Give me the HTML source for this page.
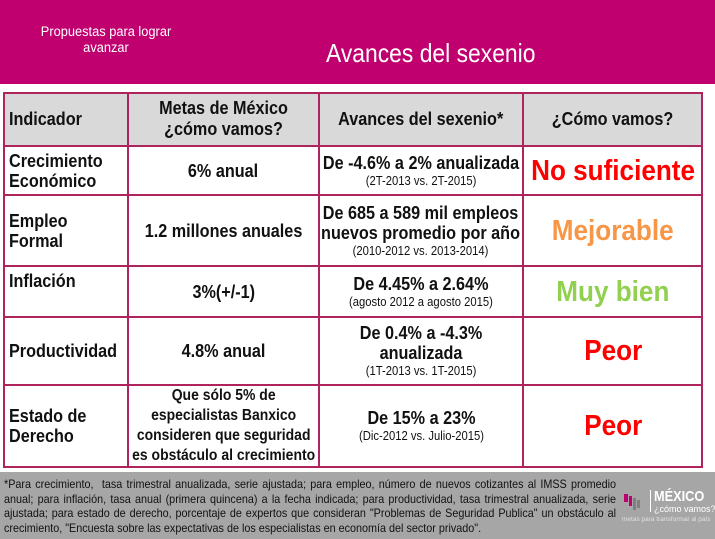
<!DOCTYPE html>
<html><head><meta charset="utf-8"><style>
*{margin:0;padding:0;box-sizing:border-box}
body{width:715px;height:539px;overflow:hidden;background:#fff;font-family:"Liberation Sans",sans-serif;position:relative}
.hdr{position:absolute;left:0;top:0;width:715px;height:84px;background:#c0006f}
.sub{position:absolute;left:20px;top:24px;width:172px;text-align:center;color:#fff;font-size:13.5px;line-height:16px;transform:scaleX(.95)}
.title{position:absolute;left:326px;top:38px;color:#fff;font-size:26px;white-space:nowrap;transform:scaleX(.88);transform-origin:left}
.tb{position:absolute;left:3px;top:92px;width:700px;height:376px;border:2px solid #b0245e}
.hl{position:absolute;background:#b0245e;height:2px;left:3px;width:700px}
.vl{position:absolute;background:#b0245e;width:2px;top:92px;height:376px}
.hbg{position:absolute;left:4px;top:93px;width:698px;height:53px;background:#d9d9d9}
.c{position:absolute;display:flex;flex-direction:column;justify-content:center;align-items:center;text-align:center;font-weight:bold;color:#111;white-space:nowrap}
.c>div{transform:scaleX(.9);transform-origin:center}
.l{align-items:flex-start;text-align:left;padding-left:6px}
.l>div{transform-origin:left}
.h{font-size:18px;line-height:21px}
.b{font-size:18px;line-height:20px}
.s{font-size:12.5px;font-weight:normal;line-height:16px;display:block}
.r{font-size:29px;line-height:32px}
.foot{position:absolute;left:0;top:472px;width:715px;height:67px;background:#a6a6a6}
.ft{position:absolute;left:4px;top:477px;width:680px;font-size:12px;line-height:14.5px;color:#111;text-align:justify;transform:scaleX(.9);transform-origin:left top}
</style></head><body>
<div class="hdr"></div>
<div class="sub">Propuestas para lograr<br>avanzar</div>
<div class="title">Avances del sexenio</div>
<div class="hbg"></div>
<div class="tb"></div>
<div class="hl" style="top:145px"></div>
<div class="hl" style="top:194px"></div>
<div class="hl" style="top:265px"></div>
<div class="hl" style="top:316px"></div>
<div class="hl" style="top:384px"></div>
<div class="vl" style="left:127px"></div>
<div class="vl" style="left:318px"></div>
<div class="vl" style="left:522px"></div>

<div class="c l h" style="left:3px;top:92px;width:125px;height:54px"><div>Indicador</div></div>
<div class="c h" style="left:128px;top:92px;width:191px;height:54px"><div>Metas de México<br>¿cómo vamos?</div></div>
<div class="c h" style="left:319px;top:92px;width:204px;height:54px"><div>Avances del sexenio*</div></div>
<div class="c h" style="left:523px;top:92px;width:180px;height:54px"><div>¿Cómo vamos?</div></div>

<div class="c l b" style="left:3px;top:146px;width:125px;height:49px"><div>Crecimiento<br>Económico</div></div>
<div class="c b" style="left:128px;top:146px;width:191px;height:49px"><div>6% anual</div></div>
<div class="c b" style="left:319px;top:146px;width:204px;height:49px"><div>De -4.6% a 2% anualizada<span class="s">(2T-2013 vs. 2T-2015)</span></div></div>
<div class="c r" style="left:523px;top:146px;width:180px;height:49px;color:#ff0000"><div>No suficiente</div></div>

<div class="c l b" style="left:3px;top:195px;width:125px;height:71px"><div>Empleo<br>Formal</div></div>
<div class="c b" style="left:128px;top:195px;width:191px;height:71px"><div>1.2 millones anuales</div></div>
<div class="c b" style="left:319px;top:195px;width:204px;height:71px"><div>De 685 a 589 mil empleos<br>nuevos promedio por año<span class="s">(2010-2012 vs. 2013-2014)</span></div></div>
<div class="c r" style="left:523px;top:195px;width:180px;height:71px;color:#f79646"><div>Mejorable</div></div>

<div class="c l b" style="left:3px;top:266px;width:125px;height:30px"><div>Inflación</div></div>
<div class="c b" style="left:128px;top:266px;width:191px;height:51px"><div>3%(+/-1)</div></div>
<div class="c b" style="left:319px;top:266px;width:204px;height:51px"><div>De 4.45% a 2.64%<span class="s">(agosto 2012 a agosto 2015)</span></div></div>
<div class="c r" style="left:523px;top:266px;width:180px;height:51px;color:#92d050"><div>Muy bien</div></div>

<div class="c l b" style="left:3px;top:317px;width:125px;height:68px"><div>Productividad</div></div>
<div class="c b" style="left:128px;top:317px;width:191px;height:68px"><div>4.8% anual</div></div>
<div class="c b" style="left:319px;top:317px;width:204px;height:68px"><div>De 0.4% a -4.3%<br>anualizada<span class="s">(1T-2013 vs. 1T-2015)</span></div></div>
<div class="c r" style="left:523px;top:317px;width:180px;height:68px;color:#ff0000"><div>Peor</div></div>

<div class="c l b" style="left:3px;top:385px;width:125px;height:82px"><div>Estado de<br>Derecho</div></div>
<div class="c" style="left:128px;top:385px;width:191px;height:82px;font-size:15.5px;line-height:20px"><div>Que sólo 5% de<br>especialistas Banxico<br>consideren que seguridad<br>es obstáculo al crecimiento</div></div>
<div class="c b" style="left:319px;top:385px;width:204px;height:82px"><div>De 15% a 23%<span class="s">(Dic-2012 vs. Julio-2015)</span></div></div>
<div class="c r" style="left:523px;top:385px;width:180px;height:82px;color:#ff0000"><div>Peor</div></div>

<div class="foot"></div>
<div class="ft">*Para crecimiento, &nbsp;tasa trimestral anualizada, serie ajustada; para empleo, número de nuevos cotizantes al IMSS promedio anual; para inflación, tasa anual (primera quincena) a la fecha indicada; para productividad, tasa trimestral anualizada, serie ajustada; para estado de derecho, porcentaje de expertos que consideran "Problemas de Seguridad Publica" un obstáculo al crecimiento, "Encuesta sobre las expectativas de los especialistas en economía del sector privado".</div>
<div style="position:absolute;left:622px;top:488px;width:93px;height:40px">
<div style="position:absolute;left:2px;top:6px;width:4px;height:8px;background:#c0006f"></div>
<div style="position:absolute;left:7px;top:8px;width:3px;height:10px;background:#c0006f"></div>
<div style="position:absolute;left:11px;top:10px;width:3px;height:12px;background:#7f7f7f"></div>
<div style="position:absolute;left:15px;top:12px;width:3px;height:8px;background:#7f7f7f"></div>
<div style="position:absolute;left:28px;top:2px;width:1px;height:22px;background:#fff"></div>
<div style="position:absolute;left:32px;top:0;color:#fff;font-weight:bold;font-size:15px;white-space:nowrap;transform:scaleX(.85);transform-origin:left">MÉXICO</div>
<div style="position:absolute;left:32px;top:16px;color:#fff;font-size:9px;white-space:nowrap">¿cómo vamos?</div>
<div style="position:absolute;left:0;top:28px;color:#e0e0e0;font-size:6.5px;white-space:nowrap">metas para transformar al país</div>
</div>
</body></html>
